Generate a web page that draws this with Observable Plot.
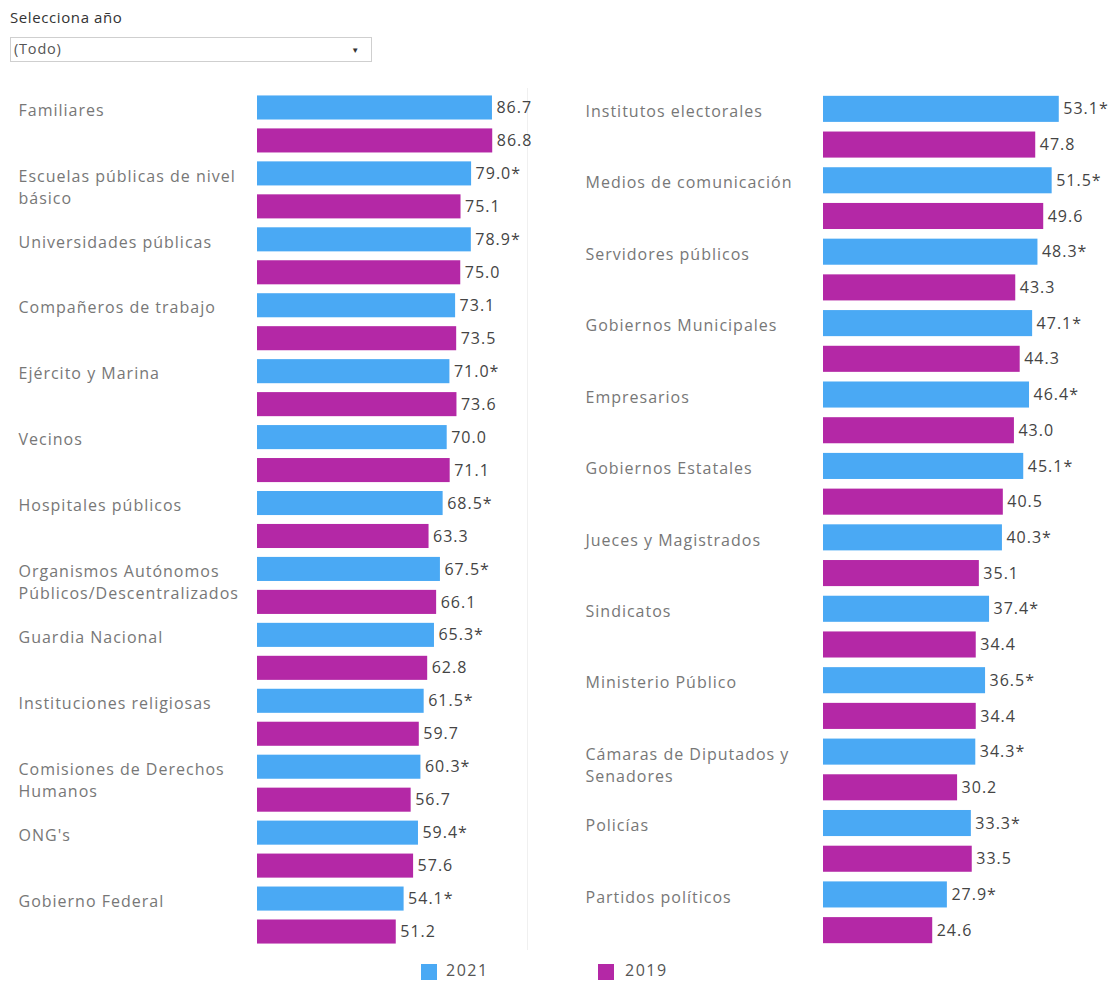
<!DOCTYPE html>
<html><head><meta charset="utf-8">
<script src="https://cdn.jsdelivr.net/npm/d3@7"></script>
<script src="https://cdn.jsdelivr.net/npm/@observablehq/plot@0.6"></script>
<style>
body{margin:0;background:#fff;font-family:"Open Sans",sans-serif;}
#wrap{position:relative;width:1113px;height:985px;overflow:hidden;}
#title{position:absolute;left:10px;top:7px;font-size:15px;color:#333;font-weight:500;letter-spacing:0.6px;}
#dd{position:absolute;left:10px;top:37px;width:362px;height:25px;border:1px solid #cfcfcf;box-sizing:border-box;font-size:14.5px;color:#555;letter-spacing:0.8px;}
#dd .t{position:absolute;left:3px;top:1px;}
#dd .a{position:absolute;right:11px;top:6px;font-size:8px;color:#333;}
#sep{position:absolute;left:527px;top:88px;width:1px;height:862px;background:#f0f0f0;}
#left{position:absolute;left:0;top:0;}
#right{position:absolute;left:528px;top:0;}
#left svg text,#right svg text{letter-spacing:1px;}
#legend{position:absolute;left:0;top:962px;width:1113px;height:20px;}
.sw{position:absolute;top:2px;width:16px;height:16px;}
.lt{position:absolute;top:-3px;font-size:16px;color:#555;letter-spacing:1.5px;}
</style></head><body>
<div id="wrap">
  <div id="title">Selecciona año</div>
  <div id="dd"><span class="t">(Todo)</span><span class="a">▼</span></div>
  <div id="sep"></div>
  <div id="left"></div>
  <div id="right"></div>
  <div id="legend"></div>
</div>
<script>
const years = ["2021", "2019"];
const colors = ["#4aa9f4", "#b428a6"];

const leftCategories = [
  "Familiares",
  "Escuelas públicas de nivel\nbásico",
  "Universidades públicas",
  "Compañeros de trabajo",
  "Ejército y Marina",
  "Vecinos",
  "Hospitales públicos",
  "Organismos Autónomos\nPúblicos/Descentralizados",
  "Guardia Nacional",
  "Instituciones religiosas",
  "Comisiones de Derechos\nHumanos",
  "ONG's",
  "Gobierno Federal"
];
const left2021 = [86.7, 79.0, 78.9, 73.1, 71.0, 70.0, 68.5, 67.5, 65.3, 61.5, 60.3, 59.4, 54.1];
const left2019 = [86.8, 75.1, 75.0, 73.5, 73.6, 71.1, 63.3, 66.1, 62.8, 59.7, 56.7, 57.6, 51.2];
const left2021Sig = [false, true, true, false, true, false, true, true, true, true, true, true, true];

const rightCategories = [
  "Institutos electorales",
  "Medios de comunicación",
  "Servidores públicos",
  "Gobiernos Municipales",
  "Empresarios",
  "Gobiernos Estatales",
  "Jueces y Magistrados",
  "Sindicatos",
  "Ministerio Público",
  "Cámaras de Diputados y\nSenadores",
  "Policías",
  "Partidos políticos"
];
const right2021 = [53.1, 51.5, 48.3, 47.1, 46.4, 45.1, 40.3, 37.4, 36.5, 34.3, 33.3, 27.9];
const right2019 = [47.8, 49.6, 43.3, 44.3, 43.0, 40.5, 35.1, 34.4, 34.4, 30.2, 33.5, 24.6];
const right2021Sig = [true, true, true, true, true, true, true, true, true, true, true, true];

function build(cats, v21, v19, sig, o) {
  const rows = [];
  cats.forEach((c, i) => {
    rows.push({key: i + "-" + years[0], cat: c, year: years[0], value: v21[i], label: v21[i].toFixed(1) + (sig[i] ? "*" : "")});
    rows.push({key: i + "-" + years[1], cat: c, year: years[1], value: v19[i], label: v19[i].toFixed(1)});
  });
  return Plot.plot({
    width: o.width, height: 960,
    marginTop: 91, marginBottom: 12, marginLeft: o.marginLeft, marginRight: o.marginRight,
    x: {domain: o.xDomain, axis: null},
    y: {domain: rows.map(d => d.key), axis: null, paddingInner: 0.27, paddingOuter: 0.135, round: false},
    color: {domain: years, range: colors},
    style: {fontFamily: "'Open Sans', sans-serif", fontSize: "16px", background: "transparent"},
    marks: [
      Plot.barX(rows, {x: "value", y: "key", fill: "year"}),
      Plot.text(rows, {x: "value", y: "key", text: "label", textAnchor: "start", dx: 4, fill: "#444", fontSize: 16}),
      Plot.text(rows.filter(d => d.year === years[0]), {
        y: "key", text: "cat", frameAnchor: "left", textAnchor: "start",
        dx: o.labelDx, lineAnchor: "top", dy: -8, lineHeight: 1.38, fill: "#777", fontSize: 16
      })
    ]
  });
}

document.getElementById("left").appendChild(
  build(leftCategories, left2021, left2019, left2021Sig, {width: 545, marginLeft: 257, marginRight: 17, xDomain: [0, 100], labelDx: -239})
);
document.getElementById("right").appendChild(
  build(rightCategories, right2021, right2019, right2021Sig, {width: 585, marginLeft: 295, marginRight: 23.6, xDomain: [0, 60], labelDx: -238})
);

const legendPos = [{sw: 421, tx: 446}, {sw: 598, tx: 625}];
const lg = document.getElementById("legend");
years.forEach((y, i) => {
  const s = document.createElement("div");
  s.className = "sw"; s.style.left = legendPos[i].sw + "px"; s.style.background = colors[i];
  const t = document.createElement("div");
  t.className = "lt"; t.style.left = legendPos[i].tx + "px"; t.textContent = y;
  lg.appendChild(s); lg.appendChild(t);
});
</script>
</body></html>
